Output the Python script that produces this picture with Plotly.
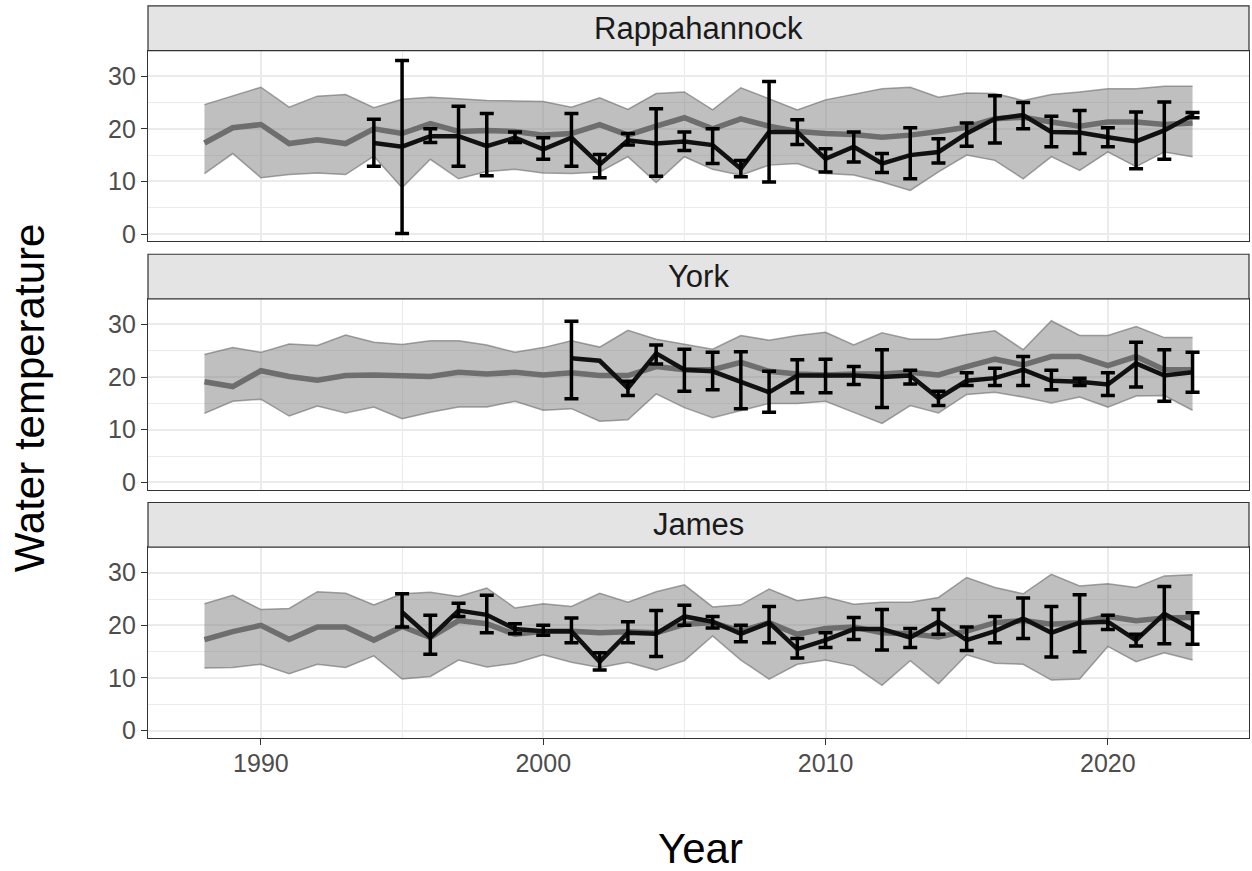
import plotly.graph_objects as go

# ---------------------------------------------------------------------------
# Annual water temperature by river: long-term range (ribbon), long-term mean
# (grey line) and the observed annual mean with its spread (black, error bars)
# ---------------------------------------------------------------------------
years = list(range(1988, 2024))

rivers = ["Rappahannock", "York", "James"]

# Rappahannock
rapp_upper = [24.6, 26.3, 27.9, 24.1, 26.2, 26.5, 24.0, 25.6, 26.0, 25.7,
              25.4, 25.3, 25.2, 24.1, 25.9, 23.7, 26.7, 27.0, 23.6, 27.8,
              25.7, 23.6, 25.5, 26.5, 27.6, 27.9, 26.0, 26.8, 26.7, 25.4,
              26.5, 27.0, 27.6, 27.6, 28.1, 28.1]
rapp_lower = [11.5, 15.3, 10.7, 11.3, 11.6, 11.3, 14.8, 8.8, 14.2, 10.5,
              11.9, 12.3, 11.6, 11.5, 11.8, 14.7, 9.8, 14.7, 12.3, 11.2,
              13.1, 13.4, 11.5, 11.2, 9.9, 8.3, 11.8, 15.0, 14.0, 10.5,
              14.7, 12.1, 15.6, 12.8, 15.6, 14.7]
rapp_mean = [17.3, 20.2, 20.8, 17.2, 17.9, 17.2, 20.0, 19.1, 21.0, 19.5,
             19.7, 19.5, 18.8, 19.1, 20.8, 18.8, 20.5, 22.1, 20.0, 21.9,
             20.5, 19.5, 19.1, 18.9, 18.4, 18.8, 19.5, 20.3, 21.9, 22.2,
             21.3, 20.5, 21.3, 21.3, 20.8, 21.1]
rapp_obs_years = list(range(1994, 2024))
rapp_obs = [17.3, 16.6, 18.6, 18.6, 16.7, 18.3, 16.1, 18.3, 13.2, 17.8,
            17.2, 17.6, 16.9, 12.4, 19.4, 19.4, 14.3, 16.6, 13.4, 15.0,
            15.6, 19.1, 21.9, 22.6, 19.4, 19.3, 18.4, 17.6, 19.7, 22.6]
rapp_obs_hi = [21.8, 33.0, 20.0, 24.3, 22.9, 19.4, 18.3, 22.9, 15.1, 19.1,
               23.8, 19.4, 20.0, 14.0, 29.0, 21.7, 16.2, 19.4, 15.3, 20.2,
               18.1, 21.1, 26.3, 25.0, 22.4, 23.5, 20.2, 23.2, 25.1, 23.1]
rapp_obs_lo = [12.9, 0.1, 17.4, 12.9, 11.1, 17.4, 14.2, 12.9, 10.7, 16.9,
               11.0, 15.9, 13.4, 10.9, 9.9, 17.0, 11.8, 13.7, 11.7, 10.5,
               13.5, 16.7, 17.3, 20.0, 16.6, 15.3, 16.6, 12.4, 14.2, 22.1]

# York
york_upper = [24.3, 25.6, 24.7, 26.3, 26.0, 28.0, 26.6, 26.2, 26.9, 26.9,
              26.1, 24.7, 25.6, 26.9, 25.7, 28.9, 27.2, 26.3, 25.3, 27.9,
              27.0, 27.9, 28.5, 26.1, 28.4, 27.2, 27.2, 28.1, 28.8, 25.2,
              30.7, 27.9, 27.9, 29.6, 27.5, 27.5]
york_lower = [13.1, 15.4, 15.8, 12.6, 14.5, 13.2, 14.3, 12.1, 13.3, 14.3,
              14.3, 15.4, 13.7, 14.0, 11.6, 11.9, 16.8, 14.2, 12.3, 13.7,
              15.0, 15.0, 15.4, 13.3, 11.2, 14.6, 13.2, 16.7, 17.1, 16.2,
              15.1, 16.2, 14.3, 16.4, 16.5, 13.7]
york_mean = [19.1, 18.2, 21.2, 20.1, 19.4, 20.3, 20.4, 20.3, 20.1, 20.9,
             20.6, 20.9, 20.4, 20.8, 20.3, 20.3, 22.0, 21.4, 21.4, 22.8,
             21.1, 20.6, 20.4, 20.6, 20.6, 20.9, 20.4, 22.0, 23.4, 22.3,
             23.9, 23.9, 22.2, 23.9, 21.4, 21.4]
york_obs_years = list(range(2001, 2024))
york_obs = [23.6, 23.1, 17.9, 24.5, 21.4, 21.1, 19.1, 17.1, 20.3, 20.3,
            20.3, 20.0, 20.3, 16.0, 19.3, 19.8, 21.4, 19.3, 19.1, 18.6,
            22.6, 20.3, 20.9]
york_obs_hi = [30.6, None, 19.2, 26.1, 25.3, 24.7, 24.8, 21.1, 23.3, 23.4,
               22.0, 25.2, 21.3, 17.3, 20.8, 21.7, 23.9, 21.3, 19.8, 20.8,
               26.6, 25.2, 24.7]
york_obs_lo = [15.9, None, 16.5, 22.5, 17.3, 17.6, 14.0, 13.3, 17.0, 17.0,
               18.6, 14.2, 18.7, 14.6, 18.4, 18.4, 18.4, 17.6, 18.4, 16.5,
               18.1, 15.4, 17.1]

# James
james_upper = [24.1, 25.7, 23.0, 23.2, 26.4, 26.1, 23.9, 26.0, 26.3, 25.5,
               27.1, 23.3, 24.1, 23.6, 26.1, 24.4, 26.4, 27.7, 23.5, 23.9,
               26.9, 24.7, 25.4, 24.0, 24.4, 24.4, 25.3, 29.1, 27.2, 26.0,
               29.7, 27.5, 27.9, 27.2, 29.4, 29.6]
james_lower = [11.9, 12.0, 12.6, 10.8, 12.6, 12.0, 14.2, 9.8, 10.3, 13.4,
               12.1, 12.8, 14.4, 13.0, 12.0, 13.0, 11.5, 13.3, 18.0, 13.4,
               9.8, 12.6, 13.4, 12.3, 8.6, 13.3, 8.9, 14.4, 12.8, 12.6,
               9.6, 9.8, 16.0, 13.1, 14.8, 13.4]
james_mean = [17.3, 18.8, 20.0, 17.3, 19.7, 19.7, 17.2, 19.8, 17.7, 20.9,
              20.3, 18.3, 18.9, 18.9, 18.6, 18.8, 18.6, 20.2, 20.5, 18.9,
              20.5, 18.3, 19.4, 19.7, 18.6, 18.4, 17.8, 18.9, 20.5, 20.9,
              20.2, 20.5, 21.7, 20.9, 21.4, 21.5]
james_obs_years = list(range(1995, 2024))
james_obs = [22.5, 17.7, 22.8, 22.0, 19.3, 18.9, 18.9, 13.1, 18.6, 18.4,
             21.7, 20.7, 18.4, 20.5, 15.5, 17.2, 19.3, 19.3, 17.7, 20.7,
             17.2, 18.9, 21.3, 18.6, 20.5, 20.7, 17.2, 22.2, 19.2]
james_obs_hi = [26.0, 21.9, 24.2, 25.7, 20.3, 20.0, 21.4, 14.8, 20.7, 22.8,
                23.8, 21.7, 20.0, 23.6, 17.5, 18.6, 21.5, 23.0, 19.4, 23.0,
                19.7, 21.7, 25.2, 23.6, 25.8, 21.9, 18.3, 27.4, 22.4]
james_obs_lo = [19.7, 14.5, 21.7, 18.6, 18.4, 18.1, 16.7, 11.5, 16.7, 14.1,
                20.0, 19.5, 16.9, 16.7, 13.8, 15.8, 17.3, 15.3, 15.8, 18.3,
                15.2, 16.7, 17.5, 14.0, 15.0, 19.2, 16.1, 16.5, 16.4]

series = [
    (rapp_upper, rapp_lower, rapp_mean, rapp_obs_years, rapp_obs, rapp_obs_hi, rapp_obs_lo),
    (york_upper, york_lower, york_mean, york_obs_years, york_obs, york_obs_hi, york_obs_lo),
    (james_upper, james_lower, james_mean, james_obs_years, james_obs, james_obs_hi, james_obs_lo),
]

y_ticks = [0, 10, 20, 30]
x_ticks = [1990, 2000, 2010, 2020]

# ---------------------------------------------------------------------------
# Page geometry (pixels) for a facet layout with a strip above each panel
# ---------------------------------------------------------------------------
W, H = 1252, 871
PANEL_L, PANEL_R = 148, 1249
STRIP_TOP, PANEL_TOP, PANEL_BOT = 6, 51, 243
STEP = 250

FONT = "Liberation Sans, Arial, Helvetica, sans-serif"
GRID = "#EBEBEB"
FRAME = "#333333"


def px_x(p):
    return p / W


def px_y(p):
    return 1 - p / H


fig = go.Figure()
layout = dict(
    width=W, height=H,
    margin=dict(l=0, r=0, t=0, b=0),
    paper_bgcolor="white", plot_bgcolor="white",
    showlegend=False,
    font=dict(family=FONT),
    shapes=[], annotations=[],
)

for k, (name, (upper, lower, mean, oyears, obs, ohi, olo)) in enumerate(zip(rivers, series), start=1):
    xa = "x" if k == 1 else f"x{k}"
    ya = "y" if k == 1 else f"y{k}"
    off = STEP * (k - 1)

    # range ribbon
    fig.add_trace(go.Scatter(x=years, y=lower, mode="lines", xaxis=xa, yaxis=ya,
                             line=dict(color="rgba(105,105,105,0.6)", width=1.5),
                             hoverinfo="skip"))
    fig.add_trace(go.Scatter(x=years, y=upper, mode="lines", xaxis=xa, yaxis=ya,
                             fill="tonexty", fillcolor="rgba(127,127,127,0.5)",
                             line=dict(color="rgba(105,105,105,0.6)", width=1.5),
                             hoverinfo="skip"))
    # long-term mean
    fig.add_trace(go.Scatter(x=years, y=mean, mode="lines", xaxis=xa, yaxis=ya,
                             line=dict(color="#6E6E6E", width=5.5)))
    # observed annual value
    fig.add_trace(go.Scatter(x=oyears, y=obs, mode="lines", xaxis=xa, yaxis=ya,
                             line=dict(color="#111111", width=4.5)))
    # spread around the observed value (years with a defined spread only)
    ex, ey, eplus, eminus = [], [], [], []
    for yr, v, hi, lo in zip(oyears, obs, ohi, olo):
        if hi is None or lo is None:
            continue
        ex.append(yr)
        ey.append(v)
        eplus.append(hi - v)
        eminus.append(v - lo)
    fig.add_trace(go.Scatter(x=ex, y=ey, mode="markers", xaxis=xa, yaxis=ya,
                             marker=dict(size=1, color="rgba(0,0,0,0)"),
                             error_y=dict(type="data", symmetric=False,
                                          array=eplus, arrayminus=eminus,
                                          color="#000000", thickness=3.5, width=7)))

    bottom = k == len(rivers)
    layout["xaxis" if k == 1 else f"xaxis{k}"] = dict(
        domain=[px_x(PANEL_L), px_x(PANEL_R)],
        anchor=ya, range=[1986.0, 2025.0],
        matches=None if k == 1 else "x",
        tickvals=x_ticks, ticktext=[str(t) for t in x_ticks],
        showticklabels=bottom, ticks="outside" if bottom else "",
        ticklen=6, tickwidth=1.2, tickcolor=FRAME, ticklabelstandoff=-3,
        tickfont=dict(size=25, color="#4D4D4D", family=FONT),
        showgrid=True, gridcolor=GRID, gridwidth=2,
        minor=dict(showgrid=True, gridcolor=GRID, gridwidth=1, tick0=1985, dtick=5),
        showline=True, mirror=True, linecolor=FRAME, linewidth=1.2,
        zeroline=False,
    )
    layout["yaxis" if k == 1 else f"yaxis{k}"] = dict(
        domain=[px_y(PANEL_BOT + off), px_y(PANEL_TOP + off)],
        anchor=xa, range=[-1.38, 34.85],
        tickvals=y_ticks, ticktext=[str(t) for t in y_ticks],
        ticks="outside", ticklen=6, tickwidth=1.2, tickcolor=FRAME,
        tickfont=dict(size=25, color="#4D4D4D", family=FONT),
        showgrid=True, gridcolor=GRID, gridwidth=2,
        minor=dict(showgrid=True, gridcolor=GRID, gridwidth=1, tick0=5, dtick=10),
        showline=True, mirror=True, linecolor=FRAME, linewidth=1.2,
        zeroline=False,
    )

    # facet strip
    layout["shapes"].append(dict(
        type="rect", xref="paper", yref="paper",
        x0=px_x(PANEL_L), x1=px_x(PANEL_R),
        y0=px_y(PANEL_TOP + off), y1=px_y(STRIP_TOP + off),
        fillcolor="#E4E4E4", line=dict(color=FRAME, width=1.2), layer="above",
    ))
    layout["annotations"].append(dict(
        text=name, xref="paper", yref="paper", showarrow=False,
        x=px_x((PANEL_L + PANEL_R) / 2), y=px_y((STRIP_TOP + PANEL_TOP) / 2 + off),
        xanchor="center", yanchor="middle",
        font=dict(size=31, color="#1A1A1A", family=FONT),
    ))

# axis titles
layout["annotations"].append(dict(
    text="Year", xref="paper", yref="paper", showarrow=False,
    x=px_x(700), y=px_y(854), xanchor="center", yanchor="middle",
    font=dict(size=42, color="#000000", family=FONT),
))
layout["annotations"].append(dict(
    text="Water temperature", xref="paper", yref="paper", showarrow=False,
    x=px_x(29), y=px_y(401), xanchor="center", yanchor="middle", textangle=-90,
    font=dict(size=42, color="#000000", family=FONT),
))

fig.update_layout(**layout)
fig.write_html("out.html")
